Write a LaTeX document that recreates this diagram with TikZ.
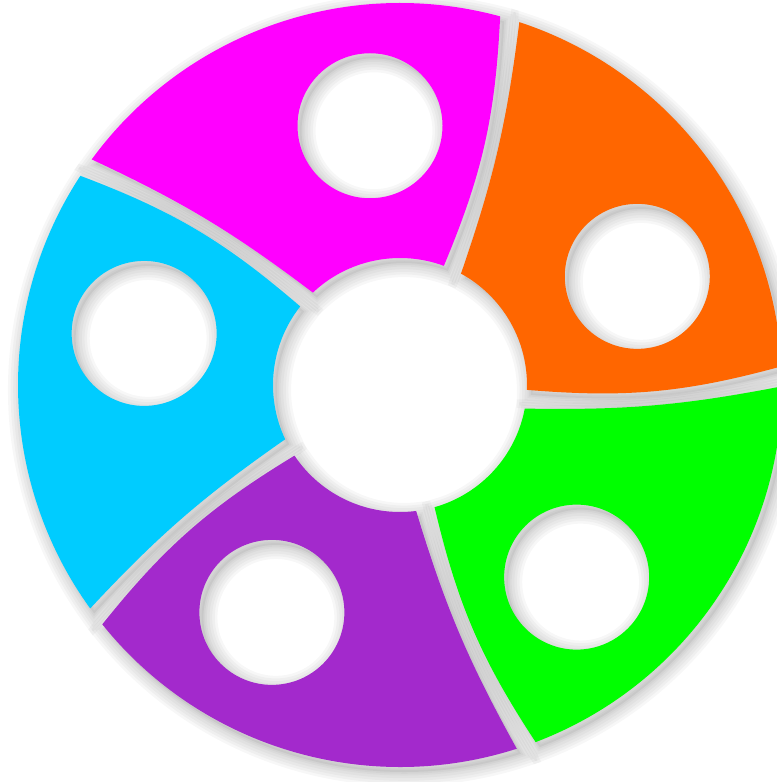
\documentclass[tikz,border=0pt]{standalone}

\definecolor{segmagenta}{HTML}{FF00FF}
\definecolor{segorange}{HTML}{FF6600}
\definecolor{seggreen}{HTML}{00FF00}
\definecolor{segpurple}{HTML}{A329CC}
\definecolor{segblue}{HTML}{00CCFF}

% one ring segment with its hole, at angle \ang
\newcommand\segshape{(\ang:\Rout) arc[start angle=\ang, end angle=\aend, radius=\Rout]
    to[bend left=6] (\iend:\Rin)
    arc[start angle=\iend, end angle=\istart, radius=\Rin]
    to[bend right=10] (\ang:\Rout) -- cycle
    (\hang:\Dhole) circle[radius=\rhole]}

\begin{document}
\begin{tikzpicture}

% ring radii:
\pgfmathsetmacro\Rout{3.82};
\pgfmathsetmacro\Rin{1.27};
% hole distance and radius:
\pgfmathsetmacro\Dhole{2.61};
\pgfmathsetmacro\rhole{0.725};

\useasboundingbox (-4.00,-3.97) rectangle (3.77,3.85);

% soft shadows first, so no shadow lies on a neighbour
\foreach \ang in {74.8,146.8,218.8,290.8,2.8}{
  \pgfmathsetmacro\aend{\ang+69}
  \pgfmathsetmacro\iend{\ang+58.5}
  \pgfmathsetmacro\istart{\ang-5}
  \pgfmathsetmacro\hang{\ang+21.8}
  \begin{scope}[xshift=0.04cm, yshift=-0.05cm]
    \fill[black, opacity=0.05, even odd rule] \segshape;
    \foreach \w in {8,6.5,5,3.5,2,1}
      \draw[black, opacity=0.03, line width=\w pt] \segshape;
  \end{scope}
}

% coloured segments:
\foreach \ang/\col in {74.8/segmagenta,146.8/segblue,218.8/segpurple,290.8/seggreen,2.8/segorange}{
  \pgfmathsetmacro\aend{\ang+69}
  \pgfmathsetmacro\iend{\ang+58.5}
  \pgfmathsetmacro\istart{\ang-5}
  \pgfmathsetmacro\hang{\ang+21.8}
  \fill[\col, even odd rule] \segshape;
}

\end{tikzpicture}
\end{document}
